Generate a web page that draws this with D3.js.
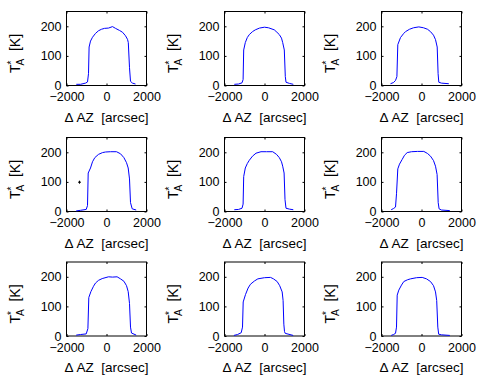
<!DOCTYPE html>
<html>
<head>
<meta charset="utf-8">
<script src="https://cdn.jsdelivr.net/npm/d3@7"></script>
<style>
  body { margin: 0; background: #fff; }
  svg { display: block; font-family: "Liberation Sans", Arial, sans-serif; }
</style>
</head>
<body>
<svg id="chart" width="484" height="382"></svg>
<script>
// azimuth offsets [arcsec] and antenna temperature [K], one pair per scan
const az1 = [-1510, -1300, -1050, -950, -900, -870, -800, -700, -550, -400, -250, -100, 100, 300, 450, 650, 800, 950, 1050, 1090, 1150, 1200, 1300, 1450];
const ta1 = [4, 4, 8, 12, 40, 130, 150, 163, 176, 185, 190, 193, 194, 199, 193, 186, 180, 168, 156, 145, 60, 14, 8, 5];
const az2 = [-1510, -1300, -1125, -1070, -1040, -960, -860, -760, -600, -460, -250, 0, 200, 490, 620, 740, 850, 910, 990, 1040, 1075, 1250, 1440];
const ta2 = [4, 5, 9, 20, 120, 145, 162, 172, 182, 188, 194, 197, 195, 188, 180, 172, 160, 145, 120, 30, 11, 7, 4];
const az3 = [-1550, -1400, -1300, -1230, -1185, -1050, -900, -800, -600, -400, -135, 100, 300, 450, 600, 700, 785, 830, 865, 1000, 1365];
const ta3 = [6, 10, 17, 30, 138, 162, 175, 182, 190, 195, 198, 195, 190, 182, 170, 155, 130, 40, 11, 8, 6];
const az4 = [-1515, -1300, -1015, -950, -915, -800, -700, -585, -400, -200, -50, 200, 500, 700, 870, 1000, 1085, 1150, 1200, 1285, 1485];
const ta4 = [2, 4, 7, 20, 130, 147, 168, 182, 193, 199, 201, 202, 202, 195, 182, 165, 147, 110, 30, 9, 5];
const az5 = [-1510, -1300, -1125, -1070, -1040, -960, -860, -760, -600, -425, -175, 100, 410, 600, 740, 850, 910, 980, 1025, 1075, 1250, 1440];
const ta5 = [6, 7, 11, 25, 118, 147, 162, 173, 187, 197, 202, 202, 202, 193, 182, 168, 153, 130, 40, 11, 8, 6];
const az6 = [-1515, -1400, -1300, -1250, -1185, -1100, -965, -850, -715, -500, -200, 115, 300, 450, 600, 700, 780, 835, 880, 1000, 1415];
const ta6 = [6, 10, 15, 60, 144, 160, 176, 190, 199, 202, 203, 203, 196, 187, 172, 153, 125, 30, 9, 5, 3];
const az7 = [-1515, -1300, -1015, -930, -885, -780, -650, -550, -400, -215, 100, 300, 530, 700, 870, 1000, 1085, 1150, 1200, 1250, 1485];
const ta7 = [3, 5, 7, 25, 130, 150, 168, 179, 188, 194, 200, 199, 200, 193, 185, 170, 150, 110, 30, 10, 3];
const az8 = [-1530, -1350, -1165, -1100, -1065, -950, -820, -700, -500, -333, 0, 300, 450, 633, 760, 883, 930, 967, 1000, 1035, 1433];
const ta8 = [2, 5, 11, 30, 115, 140, 162, 175, 186, 193, 197, 198, 193, 184, 170, 149, 120, 40, 15, 9, 2];
const az9 = [-1515, -1400, -1300, -1250, -1215, -1135, -1000, -885, -700, -550, -250, 35, 250, 450, 600, 700, 760, 815, 860, 1000, 1415];
const ta9 = [2, 5, 9, 30, 138, 155, 172, 184, 190, 193, 197, 198, 193, 184, 170, 149, 120, 30, 6, 4, 2];

// the stray point in the 4th scan
const markAz = [-1350];
const markTa = [99];

const xTicks = [-2000, 0, 2000];
const yTicks = [0, 100, 200];
const xDomain = [-2000, 2000];
const yDomain = [0, 250];

const scans = [
  [az1, ta1], [az2, ta2], [az3, ta3],
  [az4, ta4], [az5, ta5], [az6, ta6],
  [az7, ta7], [az8, ta8], [az9, ta9]
];

const colLeft = [66, 224, 381];
const rowTop = [11, 137, 261.5];
const w = 80, h = 74;
const fmt = d3.format("d");

const svg = d3.select("#chart");

scans.forEach(function (s, i) {
  const r = Math.floor(i / 3), c = i % 3;
  const g = svg.append("g")
    .attr("transform", `translate(${colLeft[c] + 0.5},${rowTop[r] + 0.5})`);

  const x = d3.scaleLinear().domain(xDomain).range([0, w]);
  const y = d3.scaleLinear().domain(yDomain).range([h, 0]);

  // axes, ticks pointing inward on all four sides
  g.append("g").attr("transform", `translate(0,${h})`)
    .call(d3.axisBottom(x).tickValues(xTicks).tickFormat(fmt).tickSizeInner(-2).tickSizeOuter(0).tickPadding(7));
  g.append("g")
    .call(d3.axisTop(x).tickValues(xTicks).tickSizeInner(-2).tickSizeOuter(0).tickFormat(""));
  g.append("g")
    .call(d3.axisLeft(y).tickValues(yTicks).tickFormat(fmt).tickSizeInner(-2).tickSizeOuter(0).tickPadding(5));
  g.append("g").attr("transform", `translate(${w},0)`)
    .call(d3.axisRight(y).tickValues(yTicks).tickSizeInner(-2).tickSizeOuter(0).tickFormat(""));

  g.selectAll(".domain").remove();
  g.selectAll(".tick line").attr("stroke", "#000");
  g.selectAll(".tick text")
    .attr("fill", "#000")
    .style("font-size", "12.5px")
    .style("font-family", "'Liberation Sans', Arial, sans-serif");

  g.append("rect")
    .attr("width", w).attr("height", h)
    .attr("fill", "none").attr("stroke", "#000").attr("stroke-width", 1);

  const line = d3.line()
    .x(function (d, k) { return x(s[0][k]); })
    .y(function (d) { return y(d); });

  g.append("path")
    .datum(s[1])
    .attr("fill", "none")
    .attr("stroke", "#0000ff")
    .attr("stroke-width", 1)
    .attr("d", line);

  if (i === 3) {
    markAz.forEach(function (a, k) {
      const px = x(a), py = y(markTa[k]);
      g.append("path")
        .attr("d", `M${px - 1.5},${py}H${px + 1.5}M${px},${py - 1.5}V${py + 1.5}`)
        .attr("stroke", "#000").attr("stroke-width", 1);
    });
  }

  // x label
  g.append("text")
    .attr("x", w / 2).attr("y", h + 36)
    .attr("text-anchor", "middle")
    .attr("xml:space", "preserve")
    .style("font-size", "13.5px")
    .text("\u0394 AZ  [arcsec]");

  // y label T_A^*  [K]
  const yl = g.append("text")
    .attr("transform", `translate(-47,${h / 2 + 5}) rotate(-90)`)
    .attr("text-anchor", "middle")
    .attr("xml:space", "preserve")
    .style("font-size", "14px");
  yl.append("tspan").text("T");
  yl.append("tspan").attr("dy", -5).style("font-size", "10px").text("*");
  yl.append("tspan").attr("dx", -5).attr("dy", 9).style("font-size", "10px").text("A");
  yl.append("tspan").attr("dy", -4).text("  [K]");
});
</script>
</body>
</html>
